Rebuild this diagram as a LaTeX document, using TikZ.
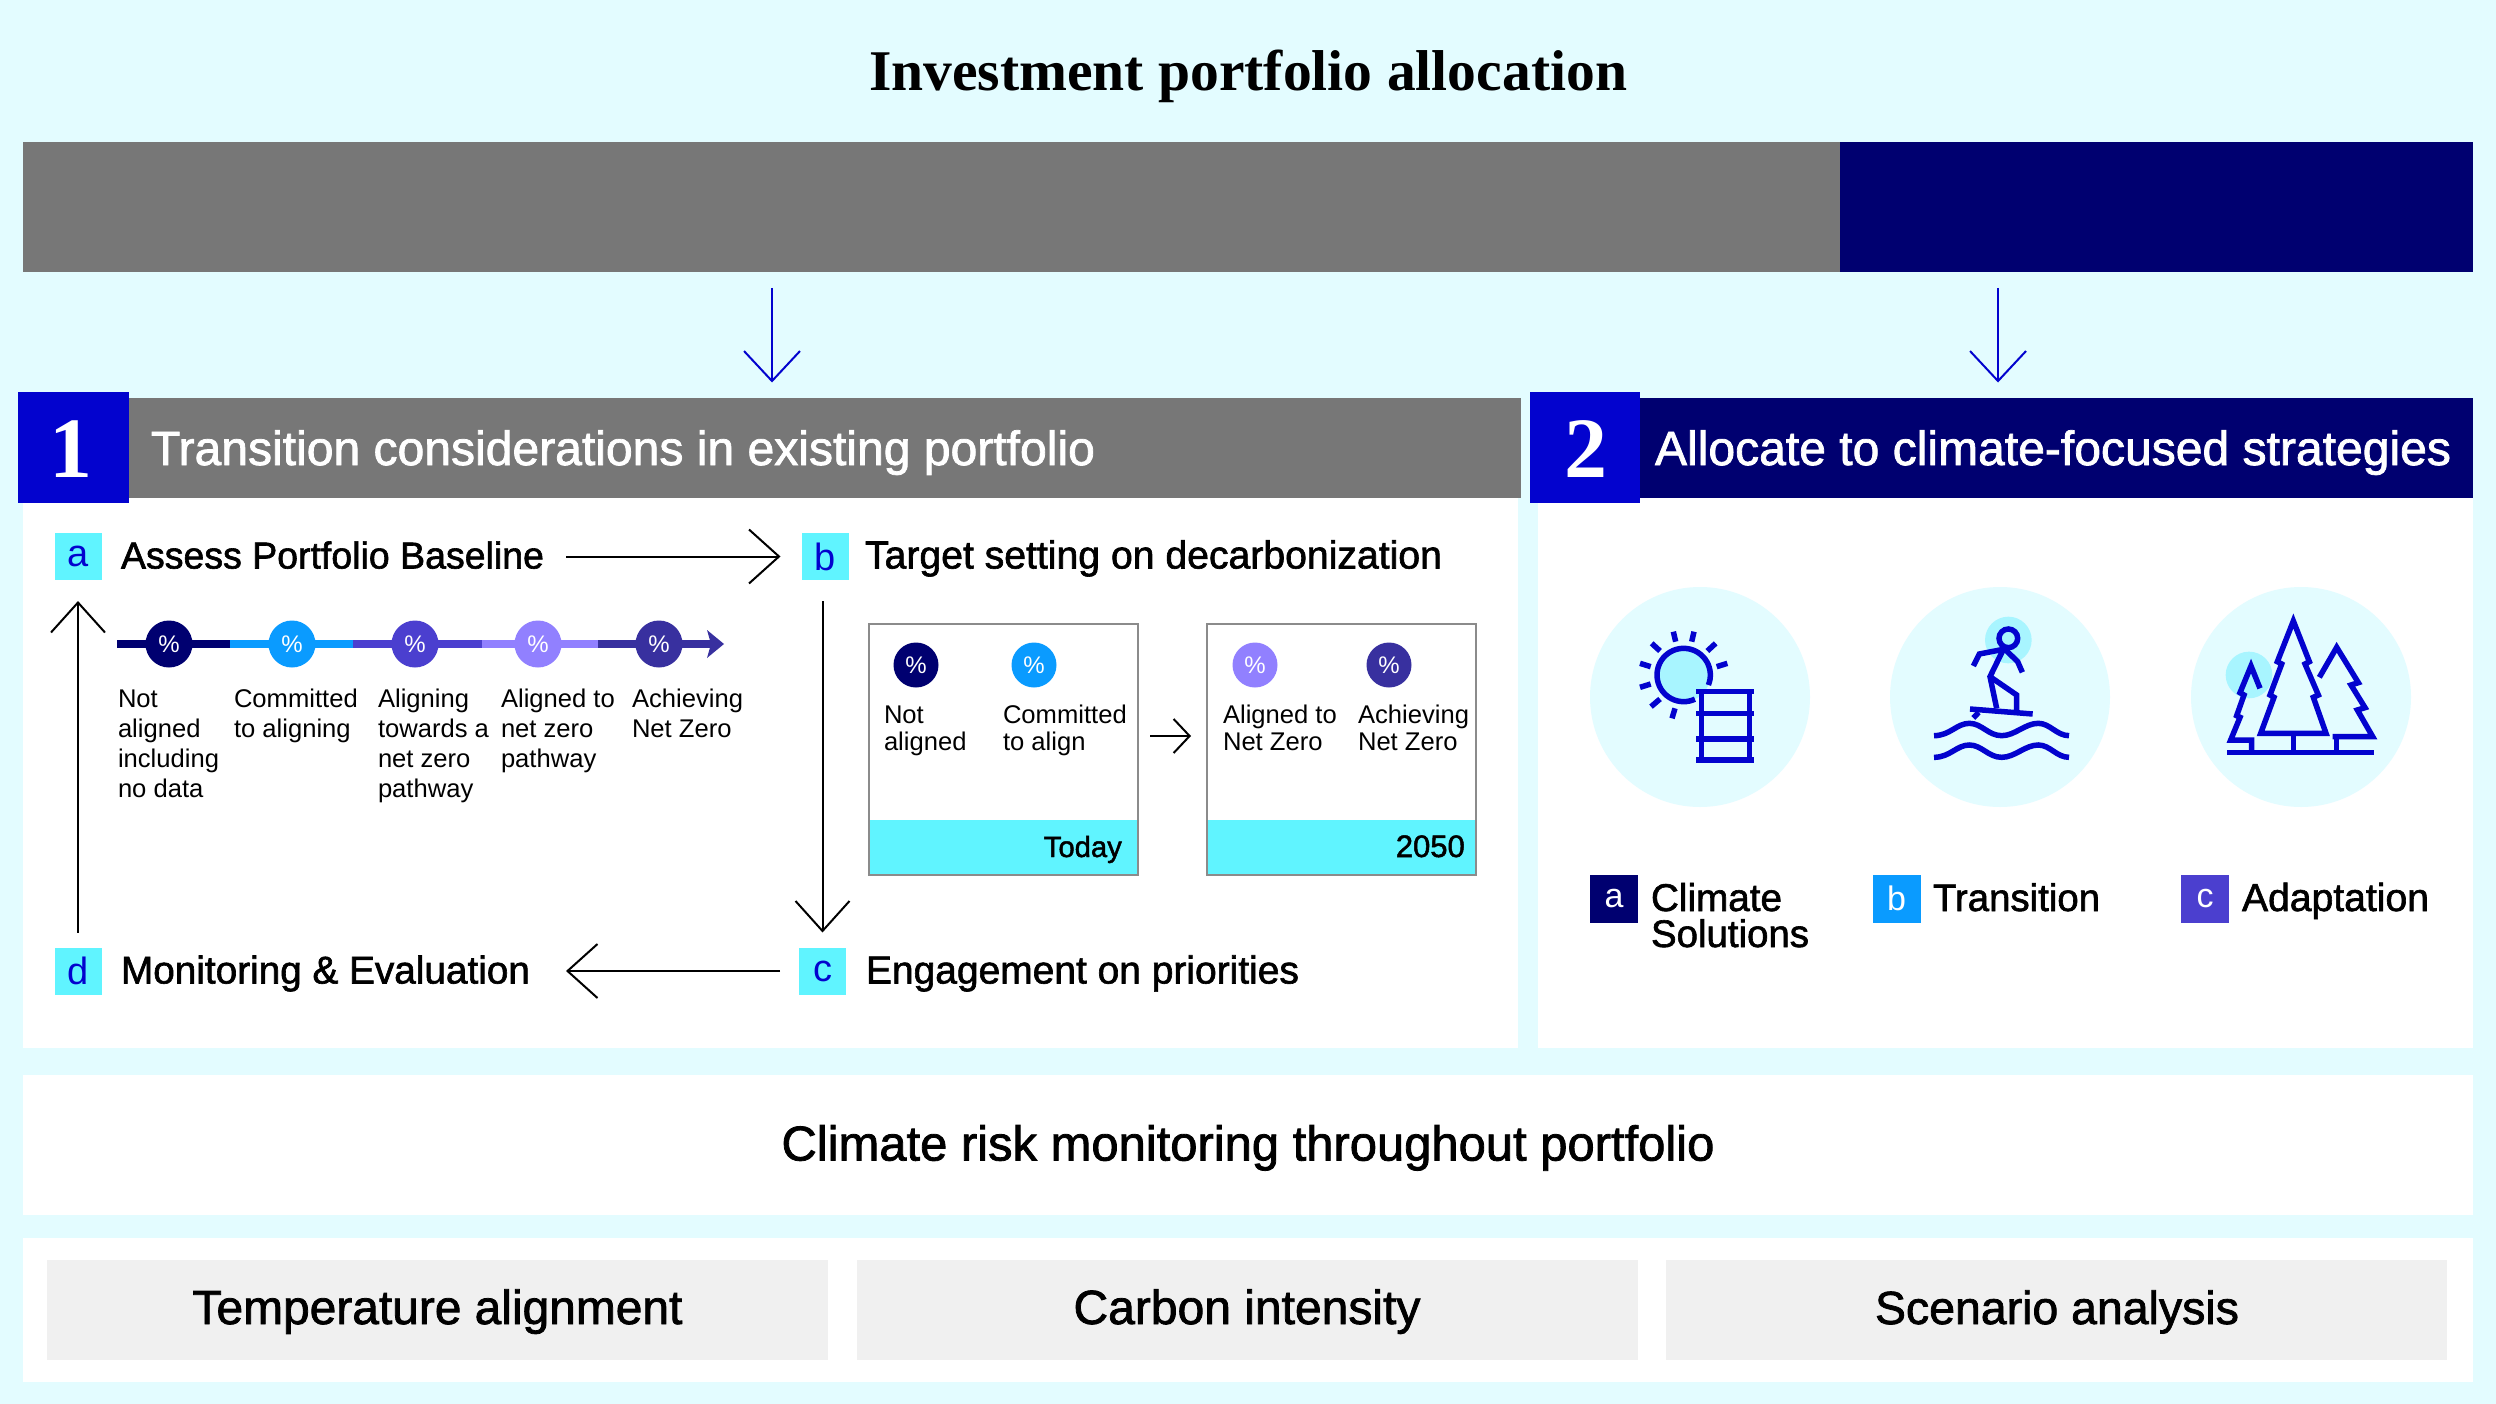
\documentclass[tikz,border=0pt]{standalone}
\usepackage{fontspec}
\setmainfont{Liberation Sans}
\newfontfamily\medf[FakeBold=1.6]{Liberation Sans}
\newfontfamily\serf{Liberation Serif}
\usetikzlibrary{arrows.meta}
\definecolor{bgc}{HTML}{E3FCFF}
\definecolor{greyc}{HTML}{777777}
\definecolor{navyc}{HTML}{000070}
\definecolor{bluec}{HTML}{0303CE}
\definecolor{cyanc}{HTML}{60F4FF}
\definecolor{skyc}{HTML}{0A9BFF}
\definecolor{purpc}{HTML}{4B3FCF}
\definecolor{lavc}{HTML}{9180FF}
\definecolor{dpurpc}{HTML}{38309F}
\definecolor{haloc}{HTML}{A8F5FF}
\definecolor{paleg}{HTML}{F0F0F0}
\newsavebox\fitbox
\newcommand{\fitted}[2]{\sbox\fitbox{\fontsize{100}{120}\selectfont #2}\pgfmathsetmacro\fitsize{(#1/\wd\fitbox)*100}\fontsize{\fitsize}{\fitsize}\selectfont #2}
\newcommand{\lbl}[1]{\parbox[t]{170pt}{\raggedright #1}}
\tikzset{
  x=1pt,y=-1pt,
  panel/.style={fill=white,draw=none},
  txt/.style={inner sep=0,outer sep=0,anchor=base west},
  ctxt/.style={inner sep=0,outer sep=0,anchor=base},
  lettersq/.style={fill=cyanc,text=bluec,inner sep=0,outer sep=0,minimum width=47pt,minimum height=47pt,font=\fontsize{38}{38}\selectfont},
  legsq/.style={fill=#1,text=white,inner sep=0,outer sep=0,minimum width=48pt,minimum height=48pt,font=\fontsize{34}{34}\selectfont},
  pct/.style={circle,fill=#1,text=white,inner sep=0,outer sep=0,minimum size=47pt,font=\fontsize{24}{24}\selectfont},
  arrowk/.style={draw=black,line width=2pt,-{Straight Barb[length=30pt,width=54pt,line width=2pt]}},
  arrowb/.style={draw=bluec,line width=2pt,-{Straight Barb[length=30pt,width=56pt,line width=2pt]}},
  arrowsm/.style={draw=black,line width=2pt,-{Straight Barb[length=16pt,width=34pt,line width=2pt]}},
  small/.style={inner sep=0,outer sep=0,anchor=base west,font=\fontsize{25.6}{30}\selectfont},
  smalli/.style={inner sep=0,outer sep=0,anchor=base west,font=\fontsize{25.6}{27.5}\selectfont},
  seg/.style={line width=8pt,draw=#1},
  ico/.style={draw=bluec,line width=5.5pt,line join=miter},
  iconbg/.style={circle,fill=bgc,inner sep=0,minimum size=220pt},
}
\begin{document}
\begin{tikzpicture}
\useasboundingbox (0,0) rectangle (2496,1404);
\fill[bgc] (0,0) rectangle (2496,1404);
% title
\node[ctxt] (title) at (1248,91) {\serf\bfseries\fitted{758}{Investment portfolio allocation}};
% bars
\node[fill=greyc,inner sep=0,outer sep=0,minimum width=1817pt,minimum height=130pt] (graybar) at (931.5,207) {};
\node[fill=navyc,inner sep=0,outer sep=0,minimum width=633pt,minimum height=130pt] (navybar) at (2156.5,207) {};
% panels
\node[panel,inner sep=0,outer sep=0,minimum width=1495pt,minimum height=551pt] (leftpanel) at (770.5,772.5) {};
\node[panel,inner sep=0,outer sep=0,minimum width=935pt,minimum height=551pt] (rightpanel) at (2005.5,772.5) {};
% headers
\node[fill=greyc,inner sep=0,outer sep=0,minimum width=1392pt,minimum height=100pt] (hdra) at (825,447.5) {};
\node[fill=navyc,inner sep=0,outer sep=0,minimum width=834pt,minimum height=100pt] (hdrb) at (2056,447.5) {};
\node[fill=bluec,text=white,inner sep=0,outer sep=0,minimum width=111pt,minimum height=111pt] (numa) at (73.5,447.5) {};
\node[fill=bluec,text=white,inner sep=0,outer sep=0,minimum width=110pt,minimum height=111pt] (numb) at (1584.5,447.5) {};
\node[ctxt,text=white,font=\serf\bfseries\fontsize{86}{86}\selectfont] (onetxt) at (71,477) {1};
\node[ctxt,text=white,font=\serf\bfseries\fontsize{86}{86}\selectfont] (twotxt) at (1586,477) {2};
\node[txt,text=white] (hdratxt) at (151,465) {\medf\fitted{944}{Transition considerations in existing portfolio}};
\node[txt,text=white] (hdrbtxt) at (1655,465) {\medf\fitted{796}{Allocate to climate-focused strategies}};
% top arrows
\coordinate (xa) at (772,0);
\coordinate (xb) at (1998,0);
\draw[arrowb,shorten <=16pt,shorten >=15pt] (graybar.south -| xa) -- (hdra.north -| xa);
\draw[arrowb,shorten <=16pt,shorten >=15pt] (navybar.south -| xb) -- (hdrb.north -| xb);
% steps
\node[lettersq] (sa) at (78.5,556.5) {a};
\node[lettersq] (sb) at (825,556.5) {b};
\node[lettersq] (sc) at (822.5,971) {c};
\node[lettersq] (sd) at (78,971) {d};
\node[txt,text=black] (ta) at (121,568.5) {\medf\fitted{423}{Assess Portfolio Baseline}};
\node[txt,text=black] (tb) at (865,568.5) {\medf\fitted{577}{Target setting on decarbonization}};
\node[txt,text=black] (tc) at (866,983.5) {\medf\fitted{433}{Engagement on priorities}};
\node[txt,text=black] (td) at (121,983.5) {\medf\fitted{409}{Monitoring \& Evaluation}};
\draw[arrowk,shorten <=22pt,shorten >=21pt] (ta.east |- sa.east) -- (sb.west);
\draw[arrowk,shorten <=21pt,shorten >=15pt] (sb.south -| sc.north) -- (sc.north);
\draw[arrowk,shorten <=19pt,shorten >=36pt] (sc.west) -- (td.east |- sc.west);
\draw[arrowk,shorten <=15pt,shorten >=21pt] (sd.north) -- (sd.north |- sa.south);
% timeline
\draw[seg=navyc] (117,644) -- (230,644);
\draw[seg=skyc] (230,644) -- (353,644);
\draw[seg=purpc] (353,644) -- (482,644);
\draw[seg=lavc] (482,644) -- (598,644);
\draw[seg=dpurpc] (598,644) -- (714,644);
\fill[dpurpc] (707,630) -- (724,644) -- (707,658) -- (711,644) -- cycle;
\node[pct=navyc] (c1) at (169,644) {\%};
\node[pct=skyc] (c2) at (292,644) {\%};
\node[pct=purpc] (c3) at (415,644) {\%};
\node[pct=lavc] (c4) at (538,644) {\%};
\node[pct=dpurpc] (c5) at (659,644) {\%};
\node[small] (l1) at (118,707) {\lbl{Not\\aligned\\including\\no data}};
\node[small] (l2) at (234,707) {\lbl{Committed\\to aligning}};
\node[small] (l3) at (378,707) {\lbl{Aligning\\towards a\\net zero\\pathway}};
\node[small] (l4) at (501,707) {\lbl{Aligned to\\net zero\\pathway}};
\node[small] (l5) at (632,707) {\lbl{Achieving\\Net Zero}};
% boxes
\node[fill=white,inner sep=0,outer sep=0,minimum width=269pt,minimum height=251pt] (boxa) at (1003.5,749.5) {};
\node[fill=white,inner sep=0,outer sep=0,minimum width=269pt,minimum height=251pt] (boxb) at (1341.5,749.5) {};
\fill[cyanc] (boxa.west |- 0,820) rectangle (boxa.south east);
\fill[cyanc] (boxb.west |- 0,820) rectangle (boxb.south east);
\draw[greyc!85!white,line width=1.6pt] (boxa.north west) rectangle (boxa.south east);
\draw[greyc!85!white,line width=1.6pt] (boxb.north west) rectangle (boxb.south east);
\node[pct=navyc,minimum size=45pt] (d1) at (916,665) {\%};
\node[pct=skyc,minimum size=45pt] (d2) at (1034,665) {\%};
\node[pct=lavc,minimum size=45pt] (d3) at (1255,665) {\%};
\node[pct=dpurpc,minimum size=45pt] (d4) at (1389,665) {\%};
\node[smalli] (m1) at (884,723) {\lbl{Not\\aligned}};
\node[smalli] (m2) at (1003,723) {\lbl{Committed\\to align}};
\node[smalli] (m3) at (1223,723) {\lbl{Aligned to\\Net Zero}};
\node[smalli] (m4) at (1358,723) {\lbl{Achieving\\Net Zero}};
\node[inner sep=0,anchor=base east] (today) at (1122,857) {\medf\fitted{78}{Today}};
\node[inner sep=0,anchor=base east] (y2050) at (1465,857) {\medf\fitted{69}{2050}};
\draw[arrowsm,shorten <=12pt,shorten >=16pt] (boxa.east |- 0,736) -- (boxb.west |- 0,736);
% icon backgrounds
\node[iconbg] (i1) at (1700,697) {};
\node[iconbg] (i2) at (2000,697) {};
\node[iconbg] (i3) at (2301,697) {};
% sun and barrel
\begin{scope}[shift={(1560,560)},scale=1/3]
\fill[haloc] (371,345) circle[radius=80];
\draw[ico] plot[domain=-22:295,samples=50] ({371+80*cos(\x)},{345-80*sin(\x)});
\foreach \a/\b/\c/\d in {340/215/347/245, 402/215/395/245, 467/250/442/273, 502/310/470/320, 240/310/272/320, 275/250/300/273, 240/382/272/372, 273/440/300/417, 345/445/336/475}
  \draw[ico] (\a,\b) -- (\c,\d);
\draw[ico,fill=bgc] (425,395) rectangle (568,600);
\foreach \yy in {395,460,537,600}
  \draw[ico] (408,\yy) -- (582,\yy);
% surfer
\fill[haloc] (1345,240) circle[radius=70];
\draw[ico] (1345,235) circle[radius=28];
\draw[ico] (1240,318) -- (1258,282) -- (1330,268) -- (1290,350) -- (1310,445);
\draw[ico] (1335,268) -- (1373,305) -- (1387,337);
\draw[ico] (1290,350) -- (1370,405) -- (1370,458);
\draw[ico] (1230,447) -- (1418,462);
\draw[ico] (1256,457) -- (1240,474);
\foreach \dy in {0,65}
  \draw[ico] (1122,{527+\dy}) .. controls (1170,{527+\dy}) and (1190,{490+\dy}) .. (1228,{490+\dy})
     .. controls (1265,{490+\dy}) and (1285,{527+\dy}) .. (1325,{527+\dy})
     .. controls (1365,{527+\dy}) and (1395,{490+\dy}) .. (1435,{490+\dy})
     .. controls (1470,{490+\dy}) and (1490,{527+\dy}) .. (1527,{527+\dy});
\end{scope}
% trees
\begin{scope}[shift={(2040,560)},scale=1/3]
\fill[haloc] (627,345) circle[radius=70];
\draw[ico] (660,385) -- (633,318) -- (600,398) -- (612,405) -- (590,467) -- (600,472) -- (572,540) -- (635,540) -- (635,577);
\draw[ico] (760,183) -- (712,305) -- (725,312) -- (690,405) -- (702,412) -- (662,520) -- (858,520) -- (820,412) -- (835,405) -- (795,312) -- (808,305) -- cycle;
\draw[ico] (760,520) -- (760,577);
\draw[ico] (838,352) -- (890,262) -- (955,368) -- (933,375) -- (975,443) -- (952,450) -- (998,530) -- (878,530);
\draw[ico] (890,530) -- (890,577);
\draw[ico] (562,577) -- (1002,577);
\end{scope}
% legend
\node[legsq=navyc] (la) at (1614,898.5) {a};
\node[legsq=skyc] (lb) at (1896.5,898.5) {b};
\node[legsq=purpc] (lc) at (2205,898.5) {c};
\node[txt] (lat) at (1651,911) {\medf\fitted{131}{Climate}};
\node[txt] (lat2) at (1651,947) {\medf\fitted{158}{Solutions}};
\node[txt] (lbt) at (1933,911) {\medf\fitted{167}{Transition}};
\node[txt] (lct) at (2242,911) {\medf\fitted{187}{Adaptation}};
% bottom
\node[fill=white,inner sep=0,outer sep=0,minimum width=2450pt,minimum height=140pt] (band) at (1248,1145) {};
\node[fill=white,inner sep=0,outer sep=0,minimum width=2450pt,minimum height=144pt] (band2) at (1248,1310) {};
\node[ctxt] (bandt) at (1248,1160.5) {\medf\fitted{933}{Climate risk monitoring throughout portfolio}};
\node[fill=paleg,inner sep=0,outer sep=0,minimum width=781pt,minimum height=100pt] (g1) at (437.5,1310) {};
\node[fill=paleg,inner sep=0,outer sep=0,minimum width=781pt,minimum height=100pt] (g2) at (1247.5,1310) {};
\node[fill=paleg,inner sep=0,outer sep=0,minimum width=781pt,minimum height=100pt] (g3) at (2056.5,1310) {};
\node[ctxt] (g1t) at (437.5,1324) {\medf\fitted{490}{Temperature alignment}};
\node[ctxt] (g2t) at (1247,1324) {\medf\fitted{347}{Carbon intensity}};
\node[ctxt] (g3t) at (2057,1324) {\medf\fitted{364}{Scenario analysis}};
\end{tikzpicture}
\end{document}
